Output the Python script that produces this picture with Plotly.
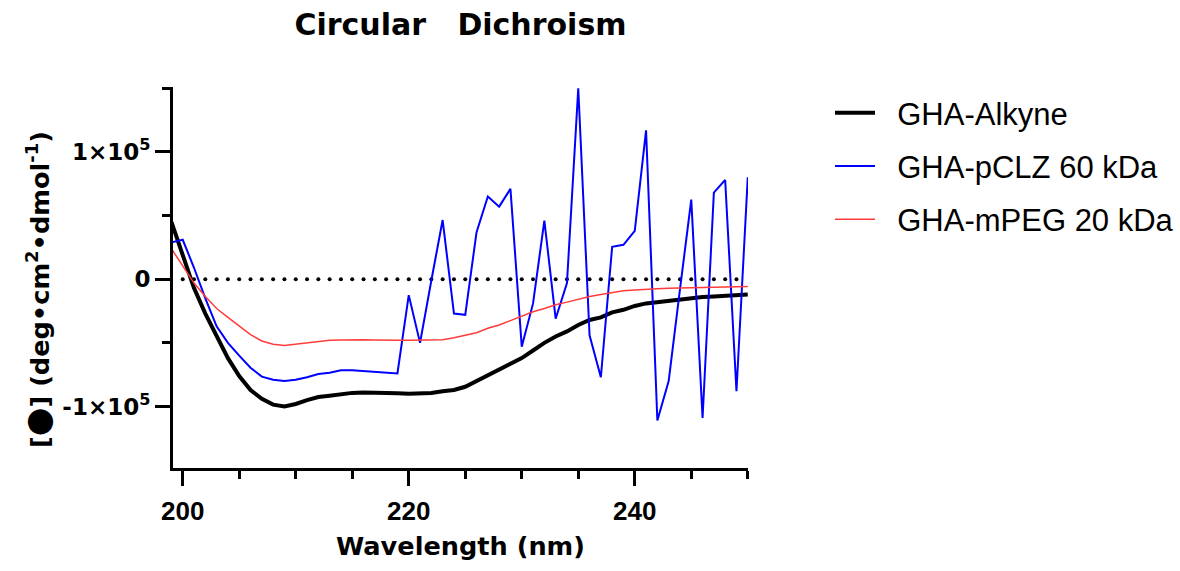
import plotly.graph_objects as go

# Wavelength grid (nm)
wavelength = list(range(199, 251))
wavelength_pclz = list(range(199, 252))

# Mean residue ellipticity, deg·cm²·dmol⁻¹
gha_alkyne = [45000, 18000, -7000, -27000, -45000, -62000, -76000, -87000, -94000, -98500,
              -100000, -98000, -95000, -92500, -91500, -90000, -89300, -89000, -89000, -89200,
              -89500, -90000, -90000, -89300, -88000, -87000, -84500, -80000, -75500, -71000,
              -67000, -62000, -56000, -50000, -45000, -41000, -36000, -32000, -30000, -26000,
              -24000, -21000, -19000, -18000, -16500, -15500, -15000, -14000, -13500, -13000,
              -12000, -12000]

gha_pclz = [29000, 31000, 9000, -15000, -37000, -50000, -60000, -69500, -76500, -79000,
            -80000, -79000, -77000, -74500, -73500, -71500, -71500, -72000, -72500, -73000,
            -74000, -12500, -50000, -1000, 46500, -27000, -28000, 37000, 65000, 57000,
            71000, -53000, -19000, 46000, -31000, -3000, 150000, -44000, -77000, 25500,
            27000, 38000, 117000, -111000, -80000, -8000, 62500, -109000, 68000, 78000,
            -88000, 80000, 55000]

gha_mpeg = [24000, 10000, -3000, -13500, -23000, -30000, -37000, -43500, -48500, -51000,
            -52000, -51000, -50000, -49000, -48000, -47700, -47500, -47500, -47700, -48000,
            -48000, -48000, -48000, -48000, -47500, -46000, -44000, -42000, -38500, -36000,
            -32500, -29000, -25500, -23000, -20000, -18000, -15500, -13500, -12000, -10500,
            -9000, -8500, -7800, -7500, -7000, -6800, -6500, -6200, -6100, -6000,
            -5800, -5700]

# Dotted zero baseline
baseline_x = list(range(200, 250))
baseline_y = [0] * len(baseline_x)

# Axis ticks
x_major = [200, 220, 240]
y_major = [-100000, 0, 100000]
y_major_text = ["-1×10<sup>5</sup>", "0", "1×10<sup>5</sup>"]
y_minor = [-50000, 50000, 150000]

BOLD = "DejaVu Sans"
ARIAL = "Liberation Sans"
PAD = "\u00a0\u00a0"  # gap between legend swatch and label

fig = go.Figure()

fig.add_trace(go.Scatter(
    x=baseline_x, y=baseline_y, mode="markers",
    marker=dict(size=4, color="black"), showlegend=False, hoverinfo="skip"))

fig.add_trace(go.Scatter(
    x=wavelength, y=gha_alkyne, mode="lines", name=PAD + "GHA-Alkyne",
    line=dict(color="black", width=4), legendgroup="a"))
fig.add_trace(go.Scatter(
    x=wavelength_pclz, y=gha_pclz, mode="lines", name=PAD + "GHA-pCLZ 60 kDa",
    line=dict(color="#0000FF", width=2), legendgroup="b"))
fig.add_trace(go.Scatter(
    x=wavelength, y=gha_mpeg, mode="lines", name=PAD + "GHA-mPEG 20 kDa",
    line=dict(color="#FF3B3B", width=1.5), legendgroup="c"))

fig.update_layout(
    width=1180, height=571,
    margin=dict(l=173, r=431.7, t=86.7, b=102.5, autoexpand=False),
    paper_bgcolor="white", plot_bgcolor="white",
    title=dict(
        text="<b>Circular\u00a0\u00a0\u00a0Dichroism</b>",
        font=dict(family=BOLD, size=30, color="black"),
        x=0.5, xref="paper", xanchor="center",
        y=1 - 24 / 571, yref="container", yanchor="middle"),
    legend=dict(
        x=830 / 1180, xref="container", xanchor="left",
        y=1 - 86 / 571, yref="container", yanchor="top",
        font=dict(family=ARIAL, size=31, color="black"),
        itemwidth=40, tracegroupgap=10, traceorder="grouped",
        bgcolor="rgba(0,0,0,0)"),
    xaxis=dict(
        range=[199.14, 250.02],
        showline=True, linecolor="black", linewidth=3,
        showgrid=False, zeroline=False,
        tickmode="array", tickvals=x_major,
        ticks="outside", ticklen=15, tickwidth=3, tickcolor="black",
        ticklabelstandoff=3,
        tickfont=dict(family=ARIAL, size=26, color="black", weight="bold"),
        minor=dict(dtick=5, tick0=200, ticks="outside", ticklen=8,
                   tickwidth=3, tickcolor="black", showgrid=False),
        title=dict(text="<b>Wavelength (nm)</b>",
                   font=dict(family=BOLD, size=25.6, color="black"),
                   standoff=12),
    ),
    yaxis=dict(
        range=[-148300, 151000],
        showline=True, linecolor="black", linewidth=3,
        showgrid=False, zeroline=False,
        tickmode="array", tickvals=y_major, ticktext=y_major_text,
        ticks="outside", ticklen=15, tickwidth=3, tickcolor="black",
        tickfont=dict(family=BOLD, size=23, color="black", weight="bold"),
        minor=dict(tickvals=y_minor, ticks="outside", ticklen=8,
                   tickwidth=3, tickcolor="black", showgrid=False),
    ),
    annotations=[dict(
        text=("<b>[<span style='font-size:33px'>●</span>] "
              "(deg•cm<sup>2</sup>•dmol<sup>-1</sup>)</b>"),
        textangle=-90, xref="paper", yref="paper",
        x=(38 - 173) / 575.3, y=(468.5 - 290) / 381.8,
        xanchor="center", yanchor="middle", showarrow=False,
        font=dict(family=BOLD, size=25.6, color="black"))],
)

fig.write_html("out.html")
